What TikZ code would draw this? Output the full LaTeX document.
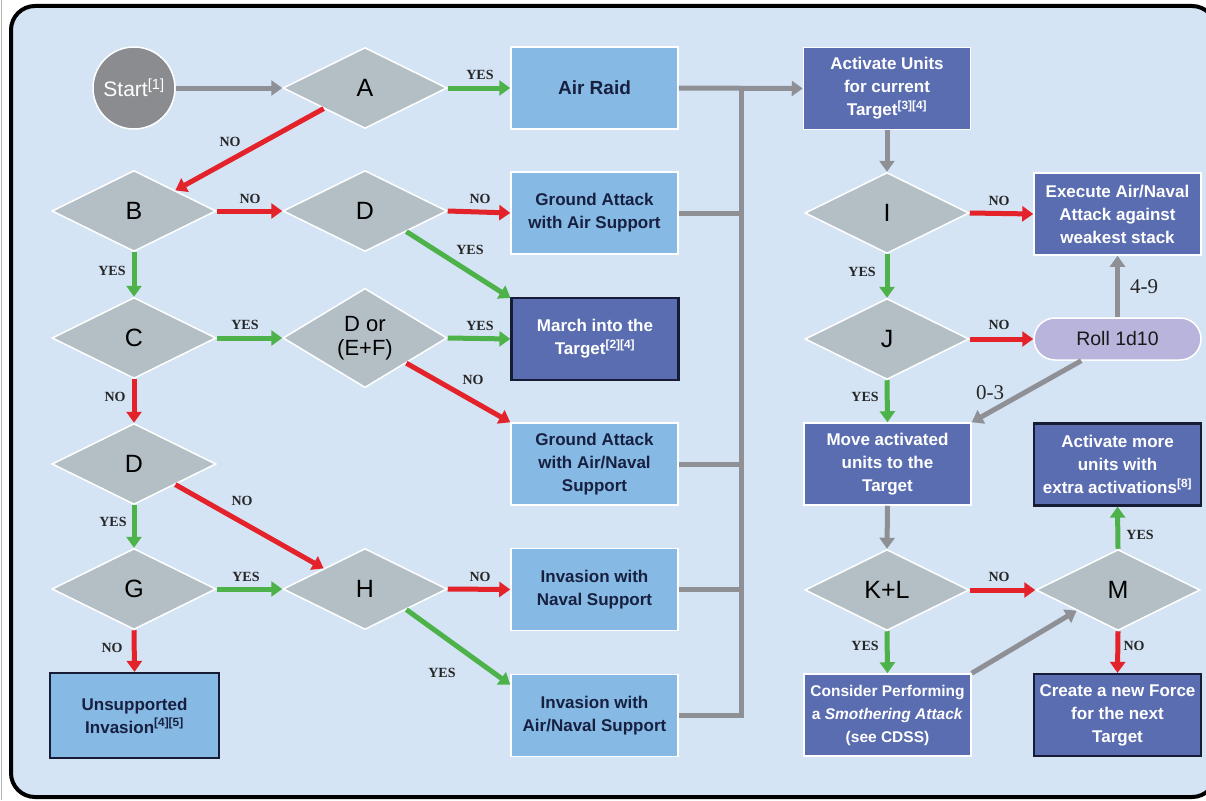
\documentclass[tikz,border=0pt]{standalone}
\usepackage{fontspec}
\setmainfont{Liberation Sans}
\newfontfamily\labelfont{Liberation Serif}
\usetikzlibrary{shapes.geometric,arrows.meta}
\definecolor{panel}{HTML}{D4E4F4}
\definecolor{lightbox}{HTML}{86B9E3}
\definecolor{darkbox}{HTML}{5B6DB1}
\definecolor{decisionfill}{HTML}{B4BFC5}
\definecolor{startgray}{HTML}{8B8C8F}
\definecolor{rollfill}{HTML}{B8B4DC}
\definecolor{yesgreen}{HTML}{4DB24A}
\definecolor{nored}{HTML}{E3222A}
\definecolor{flowgray}{HTML}{8E9095}
\definecolor{navyline}{HTML}{161B36}
\definecolor{inktext}{HTML}{172040}

\begin{document}
\begin{tikzpicture}[x=1pt,y=-1pt,
  decision/.style={diamond, fill=decisionfill, draw=white, line width=1.5pt,
    minimum width=164pt, minimum height=81pt, inner sep=0pt, align=center,
    font=\fontsize{25}{27}\selectfont},
  lightstep/.style={rectangle, fill=lightbox, draw=white, line width=1.5pt,
    minimum width=167pt, minimum height=82pt, inner sep=2pt, align=center,
    text=inktext, font=\bfseries\fontsize{17}{23}\selectfont},
  darkstep/.style={lightstep, fill=darkbox, text=white},
  framed/.style={draw=navyline, line width=2.2pt},
  flow/.style={line width=5pt, -{Triangle[length=11pt,width=15pt]}},
  yesflow/.style={flow, draw=yesgreen},
  noflow/.style={flow, draw=nored},
  grayflow/.style={flow, draw=flowgray},
  busline/.style={line width=5pt, draw=flowgray},
  tag/.style={font=\labelfont\bfseries\fontsize{14}{14}\selectfont, text=black!85},
  rolltag/.style={font=\labelfont\fontsize{21}{21}\selectfont, text=black!85},
]
% page and panel
\fill[white] (0,0) rectangle (1206,800);
\useasboundingbox (0,0) rectangle (1206,800);
\draw[black!30, line width=1.2pt] (1.5,0) -- (1.5,800);
\draw[fill=panel, line width=4pt, rounded corners=24pt] (11,6) rectangle (1216,797);

% start
\node[circle, fill=startgray, draw=white, line width=1.5pt, minimum size=82pt,
  inner sep=0pt, text=white, font=\fontsize{21}{21}\selectfont] (start) at (134,88)
  {Start\textsuperscript{[1]}};

% decisions, left part
\node[decision] (A) at (365,88) {A};
\node[decision] (B) at (134,211) {B};
\node[decision] (D1) at (365,211) {D};
\node[decision] (C) at (134,338) {C};
\node[decision, font=\fontsize{22}{24}\selectfont] (DEF) at (365,338) {D or\\(E+F)};
\node[decision] (D2) at (134,464) {D};
\node[decision] (G) at (134,589) {G};
\node[decision] (H) at (365,589) {H};

% outcomes, left part
\node[lightstep, font=\bfseries\fontsize{19}{23}\selectfont] (airraid) at (594.5,88) {Air Raid};
\node[lightstep] (ga1) at (594.5,213) {Ground Attack\\with Air Support};
\node[darkstep, framed] (march) at (595,339) {March into the\\Target\textsuperscript{[2][4]}};
\node[lightstep] (ga2) at (594.5,464) {Ground Attack\\with Air/Naval\\Support};
\node[lightstep] (invnaval) at (594.5,589.5) {Invasion with\\Naval Support};
\node[lightstep] (invair) at (594.5,715.5) {Invasion with\\Air/Naval Support};
\node[lightstep, framed, minimum width=169pt, minimum height=85pt] (unsup) at (134.5,715.5)
  {Unsupported\\Invasion\textsuperscript{[4][5]}};

% right part
\node[darkstep] (activate) at (887,88.5) {Activate Units\\for current\\Target\textsuperscript{[3][4]}};
\node[decision] (I) at (887,213) {I};
\node[darkstep] (execute) at (1117.5,214) {Execute Air/Naval\\Attack against\\weakest stack};
\node[decision] (J) at (887,339) {J};
\node[rectangle, rounded corners=21pt, fill=rollfill, draw=white, line width=1.5pt,
  minimum width=167pt, minimum height=42pt, font=\fontsize{19.5}{21}\selectfont,
  text=black!90] (roll) at (1117.5,339) {Roll 1d10};
\node[darkstep] (move) at (887.5,464) {Move activated\\units to the\\Target};
\node[darkstep, framed] (more) at (1117.5,464.5) {Activate more\\units with\\extra activations\textsuperscript{[8]}};
\node[decision] (KL) at (887,590) {K+L};
\node[decision] (M) at (1118,590) {M};
\node[darkstep, font=\bfseries\fontsize{15.5}{23}\selectfont] (consider) at (887.5,715)
  {Consider Performing\\a \textit{Smothering Attack}\\(see CDSS)};
\node[darkstep, framed] (create) at (1117.5,715) {Create a new Force\\for the next\\Target};

% collecting bus towards the activation step
\coordinate (bustop) at (741,88);
\draw[busline] (bustop) -- (bustop |- invair.east) -- (invair.east);
\draw[busline] (ga1.east) -- (ga1.east -| bustop);
\draw[busline] (ga2.east) -- (ga2.east -| bustop);
\draw[busline] (invnaval.east) -- (invnaval.east -| bustop);
\draw[grayflow] (airraid.east) -- (activate.west);

% connectors, left part
\draw[grayflow] (start.east) -- (A.west);
\draw[yesflow] (A.east) -- (airraid.west);
\draw[noflow] (A.south west) -- (B.north east);
\draw[noflow] (B.east) -- (D1.west);
\draw[noflow] (D1.east) -- (ga1.west);
\draw[yesflow] (D1.south east) -- ([yshift=-1pt]march.north west);
\draw[yesflow] (B.south) -- (C.north);
\draw[yesflow] (C.east) -- (DEF.west);
\draw[yesflow] (DEF.east) -- (march.west);
\draw[noflow] (DEF.south east) -- (ga2.north west);
\draw[noflow] (C.south) -- (D2.north);
\draw[yesflow] (D2.south) -- (G.north);
\draw[noflow] (D2.south east) -- (H.north west);
\draw[yesflow] (G.east) -- (H.west);
\draw[noflow] (H.east) -- (invnaval.west);
\draw[yesflow] (H.south east) -- ([yshift=-11pt]invair.north west);
\draw[noflow] (G.south) -- (unsup.north);

% connectors, right part
\draw[grayflow] (activate.south) -- (I.north);
\draw[noflow] (I.east) -- (execute.west);
\draw[yesflow] (I.south) -- (J.north);
\draw[noflow] (J.east) -- (roll.west);
\draw[grayflow] (roll.north) -- (execute.south);
\draw[grayflow] ([xshift=48pt]roll.south west) -- (move.north east);
\draw[yesflow] (J.south) -- (move.north);
\draw[grayflow] (move.south) -- (KL.north);
\draw[noflow] (KL.east) -- (M.west);
\draw[yesflow] (KL.south) -- (consider.north);
\draw[grayflow] (consider.north east) -- (M.south west);
\draw[yesflow] (M.north) -- (more.south);
\draw[noflow] (M.south) -- (create.north);

% branch labels
\node[tag] (t1) at (480,75) {YES};
\node[tag] (t2) at (230,142) {NO};
\node[tag] (t3) at (250,199) {NO};
\node[tag] (t4) at (480,199) {NO};
\node[tag] (t5) at (470,250) {YES};
\node[tag] (t6) at (112,271) {YES};
\node[tag] (t7) at (245,325) {YES};
\node[tag] (t8) at (480,326) {YES};
\node[tag] (t9) at (473,380) {NO};
\node[tag] (t10) at (115,397) {NO};
\node[tag] (t11) at (242,501) {NO};
\node[tag] (t12) at (113,522) {YES};
\node[tag] (t13) at (246,577) {YES};
\node[tag] (t14) at (112,648) {NO};
\node[tag] (t15) at (480,577) {NO};
\node[tag] (t16) at (442,673) {YES};
\node[tag] (t17) at (999,201) {NO};
\node[tag] (t18) at (862,272) {YES};
\node[tag] (t19) at (999,325) {NO};
\node[tag] (t20) at (865,397) {YES};
\node[tag] (t21) at (1140,535) {YES};
\node[tag] (t22) at (999,577) {NO};
\node[tag] (t23) at (865,646) {YES};
\node[tag] (t24) at (1134,646) {NO};
\node[rolltag] (r1) at (1144,287) {4-9};
\node[rolltag] (r2) at (990,393) {0-3};
\end{tikzpicture}
\end{document}
